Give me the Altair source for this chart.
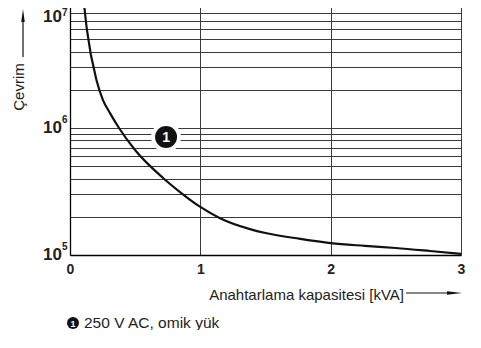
import altair as alt
import pandas as pd

# ---- data ----
x_vals = [0.103, 0.130, 0.203, 0.253, 0.307, 0.376, 0.499, 0.714, 0.844, 1.0,
          1.151, 1.381, 1.5, 1.765, 2.0, 2.263, 2.5, 2.762, 3.0]
y_vals = [1.05e7, 5.92e6, 2.39e6, 1.66e6, 1.31e6, 1.0e6, 6.71e5, 4.04e5, 3.13e5, 2.39e5,
          1.95e5, 1.60e5, 1.49e5, 1.34e5, 1.24e5, 1.18e5, 1.135e5, 1.075e5, 1.02e5]

x_grid = [0, 0.5, 1, 1.5, 2, 2.5, 3]
y_grid = [2e5, 3e5, 4e5, 5e5, 6e5, 7e5, 8e5, 9e5,
          1e6, 2e6, 3e6, 4e6, 5e6, 6e6, 7e6, 8e6, 9e6, 1e7]
y_label_vals = [1e5, 1e6]
y_label_base = ["10", "10"]
y_label_exp = ["5", "6"]
top_label_val = [1e7]
top_label_base = ["10"]
top_label_exp = ["7"]

marker_x = [0.737]
marker_y = [8.49e5]
marker_text = ["1"]

legend_text = ["250 V AC, omik yük"]
x_title = ["Anahtarlama kapasitesi [kVA]"]
y_title = ["Çevrim"]

FONT = "Liberation Sans"
TXT = "#222222"
GRID = "#3a3a3a"

xscale = alt.Scale(domain=[0, 3], nice=False, zero=False)
yscale = alt.Scale(type="log", domain=[1e5, 1e7], nice=False)

curve_df = pd.DataFrame({"x": x_vals, "y": y_vals})

curve = alt.Chart(curve_df).mark_line(
    color="#111111", strokeWidth=2.2, interpolate="monotone", clip=True
).encode(
    x=alt.X("x:Q", scale=xscale, axis=alt.Axis(
        values=x_grid, grid=True, gridColor=GRID, gridWidth=1, gridOpacity=1,
        domainColor="#000000", domainWidth=1.3, ticks=False, tickSize=0,
        labelExpr="datum.value % 1 == 0 ? datum.label : ''", format="d",
        labelFont=FONT, labelFontSize=14, labelFontWeight="bold", labelColor=TXT,
        labelFlush=False, labelOverlap=False, labelBaseline="middle", labelPadding=14,
        title=None)),
    y=alt.Y("y:Q", scale=yscale, axis=alt.Axis(
        values=y_grid, grid=True, gridColor=GRID, gridWidth=1, gridOpacity=1,
        domainColor="#000000", domainWidth=1.3, ticks=False, tickSize=0,
        labels=False, title=None)),
)

ylab_df = pd.DataFrame({"v": y_label_vals, "b": y_label_base, "e": y_label_exp})
ylab_base = alt.Chart(ylab_df).mark_text(
    align="right", baseline="middle", font=FONT, fontSize=17, fontWeight="bold", color=TXT
).encode(y=alt.Y("v:Q", scale=yscale), x=alt.value(-8), text="b:N")
ylab_exp = alt.Chart(ylab_df).mark_text(
    align="left", baseline="middle", font=FONT, fontSize=10, fontWeight="bold", color=TXT, dy=-8.5
).encode(y=alt.Y("v:Q", scale=yscale), x=alt.value(-8), text="e:N")

top_df = pd.DataFrame({"v": top_label_val, "b": top_label_base, "e": top_label_exp})
top_base = alt.Chart(top_df).mark_text(
    align="right", baseline="middle", font=FONT, fontSize=17, fontWeight="bold", color=TXT, dy=16
).encode(y=alt.Y("v:Q", scale=yscale), x=alt.value(-8), text="b:N")
top_exp = alt.Chart(top_df).mark_text(
    align="left", baseline="middle", font=FONT, fontSize=10, fontWeight="bold", color=TXT, dy=11.5
).encode(y=alt.Y("v:Q", scale=yscale), x=alt.value(-8), text="e:N")

mk_df = pd.DataFrame({"x": marker_x, "y": marker_y, "t": marker_text})
halo = alt.Chart(mk_df).mark_point(
    shape="circle", filled=True, color="white", opacity=1, size=900, strokeWidth=0
).encode(x=alt.X("x:Q", scale=xscale), y=alt.Y("y:Q", scale=yscale))
dot = alt.Chart(mk_df).mark_point(
    shape="circle", filled=True, color="#111111", opacity=1, size=484, strokeWidth=0
).encode(x=alt.X("x:Q", scale=xscale), y=alt.Y("y:Q", scale=yscale))
dot_txt = alt.Chart(mk_df).mark_text(
    font=FONT, fontSize=14, fontWeight="bold", color="white", baseline="middle", align="center", dy=0.5
).encode(x=alt.X("x:Q", scale=xscale), y=alt.Y("y:Q", scale=yscale), text="t:N")

# legend
leg_df = pd.DataFrame({"t": marker_text, "l": legend_text})
leg_dot = alt.Chart(leg_df).mark_point(
    shape="circle", filled=True, color="#111111", opacity=1, size=144, strokeWidth=0
).encode(x=alt.value(3), y=alt.value(322))
leg_num = alt.Chart(leg_df).mark_text(
    font=FONT, fontSize=9, fontWeight="bold", color="white", baseline="middle", align="center", dy=0.5
).encode(x=alt.value(3), y=alt.value(322), text="t:N")
leg_txt = alt.Chart(leg_df).mark_text(
    font=FONT, fontSize=15.5, color=TXT, baseline="middle", align="left"
).encode(x=alt.value(14), y=alt.value(322), text="l:N")

# axis titles with arrows
xt_df = pd.DataFrame({"t": x_title})
xt = alt.Chart(xt_df).mark_text(
    font=FONT, fontSize=15, color=TXT, baseline="middle", align="right"
).encode(x=alt.value(334), y=alt.value(294), text="t:N")
x_line = alt.Chart(xt_df).mark_rule(color="#111111", strokeWidth=1.2).encode(
    x=alt.value(336), x2=alt.value(380), y=alt.value(292))
x_head = alt.Chart(xt_df).mark_point(
    shape="M1,0L-1,-0.24L-1,0.24Z", filled=True, color="#111111", opacity=1, size=225, strokeWidth=0
).encode(x=alt.value(384.5), y=alt.value(292))

yt_df = pd.DataFrame({"t": y_title})
yt = alt.Chart(yt_df).mark_text(
    font=FONT, fontSize=15, color=TXT, baseline="middle", align="center", angle=270
).encode(x=alt.value(-51), y=alt.value(86), text="t:N")
y_line = alt.Chart(yt_df).mark_rule(color="#111111", strokeWidth=1.2).encode(
    x=alt.value(-47), y=alt.value(20), y2=alt.value(56))
y_head = alt.Chart(yt_df).mark_point(
    shape="M0,-1L0.27,1L-0.27,1Z", filled=True, color="#111111", opacity=1, size=169, strokeWidth=0
).encode(x=alt.value(-47), y=alt.value(14.5))

chart = alt.layer(
    curve, ylab_base, ylab_exp, top_base, top_exp, halo, dot, dot_txt,
    leg_dot, leg_num, leg_txt, xt, x_line, x_head, yt, y_line, y_head
).properties(
    width=391, height=254,
    autosize=alt.AutoSizeParams(type="none"),
    padding={"left": 62, "top": -7, "right": 10, "bottom": 75},
    background="white",
).configure_view(stroke=None)

chart.save("out.html", embed_options={"renderer": "svg", "actions": False})
